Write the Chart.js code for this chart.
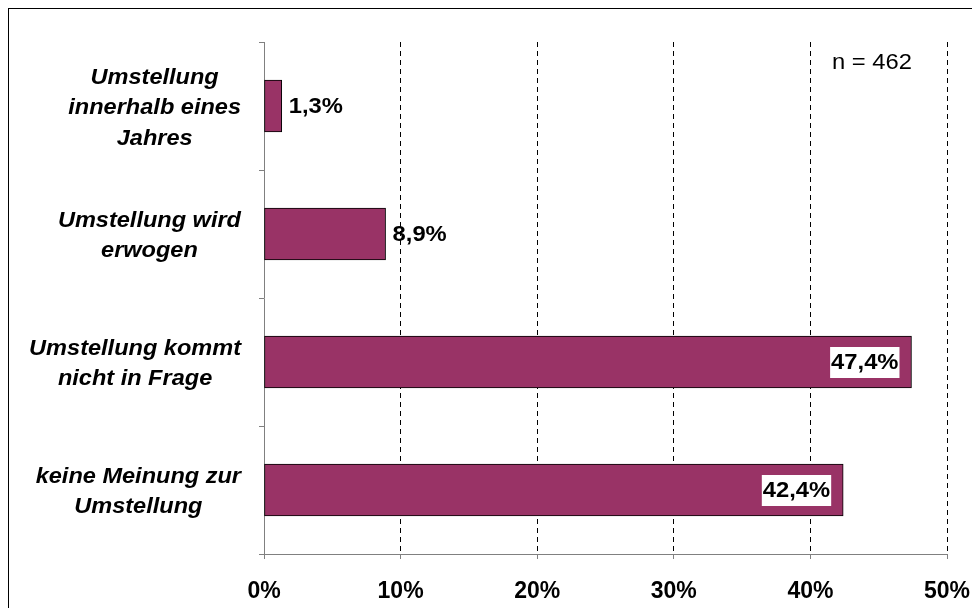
<!DOCTYPE html>
<html>
<head>
<meta charset="utf-8">
<script src="https://cdn.jsdelivr.net/npm/chart.js@4/dist/chart.umd.min.js"></script>
<style>
  html, body { margin: 0; padding: 0; background: #fff; }
  #wrap { width: 972px; height: 608px; }
</style>
</head>
<body>
<div id="wrap"><canvas id="barChart" width="972" height="608"></canvas></div>
<script>
// Daten
const categories = [
    ['Umstellung', 'innerhalb eines', 'Jahres'],
    ['Umstellung wird', 'erwogen'],
    ['Umstellung kommt', 'nicht in Frage'],
    ['keine Meinung zur', 'Umstellung'],
];
const shares = [1.3, 8.9, 47.4, 42.4];
const xTicks = [0, 10, 20, 30, 40, 50];
const sampleNote = 'n = 462';

const FONT = 'Arial, "Liberation Sans", sans-serif';
const BAR_COLOR = '#993366';
const AXIS_GRAY = '#808080';

function fmt(v) {
    return v.toFixed(1).replace('.', ',') + '%';
}

// Text leicht in die Breite gezogen (wie im Original)
function stretchedText(ctx, txt, x, y, sx, align) {
    ctx.save();
    ctx.translate(x, y);
    ctx.scale(sx, 1);
    ctx.textAlign = align;
    ctx.fillText(txt, 0, 0);
    ctx.restore();
}

// Rahmen + Kategorien + Werte + n
const extrasPlugin = {
    id: 'extras',
    beforeDraw(chart) {
        const ctx = chart.ctx;
        ctx.save();
        ctx.strokeStyle = '#000';
        ctx.lineWidth = 1;
        ctx.strokeRect(8.5, 8.5, 2000, 2000);
        ctx.restore();
    },
    afterDatasetsDraw(chart) {
        const ctx = chart.ctx;
        const yScale = chart.scales.y;
        const meta = chart.getDatasetMeta(0);

        ctx.save();
        ctx.textBaseline = 'middle';
        ctx.fillStyle = '#000';

        // Kategorie-Beschriftung: Block rechtsbündig, Zeilen zentriert
        const catStretch = 1.07;
        ctx.font = 'italic bold 22px ' + FONT;
        const lineH = 30.5;
        const rightEdge = 241;
        categories.forEach((lines, i) => {
            const yc = yScale.getPixelForValue(i) + 2;
            const blockW = Math.max(...lines.map((l) => ctx.measureText(l).width)) * catStretch;
            const cx = rightEdge - blockW / 2;
            lines.forEach((l, j) => {
                stretchedText(ctx, l, cx, yc + (j - (lines.length - 1) / 2) * lineH, catStretch, 'center');
            });
        });

        // Werte an den Balken
        const valStretch = 1.08;
        ctx.font = 'bold 22px ' + FONT;
        meta.data.forEach((bar, i) => {
            const txt = fmt(shares[i]);
            const w = ctx.measureText(txt).width * valStretch;
            if (shares[i] > 25) {
                const right = bar.x - 13;
                ctx.fillStyle = '#fff';
                ctx.fillRect(right - w - 1, bar.y - 15, w + 2, 31);
                ctx.fillStyle = '#000';
                stretchedText(ctx, txt, right, bar.y + 1, valStretch, 'right');
            } else {
                ctx.fillStyle = '#000';
                stretchedText(ctx, txt, bar.x + 7, bar.y + 1, valStretch, 'left');
            }
        });

        // Stichprobengröße
        ctx.font = '22px ' + FONT;
        ctx.fillStyle = '#000';
        stretchedText(ctx, sampleNote, 832, 63, 1.08, 'left');
        ctx.restore();
    },
};

new Chart(document.getElementById('barChart'), {
    type: 'bar',
    data: {
        labels: categories,
        datasets: [
            {
                data: shares,
                backgroundColor: BAR_COLOR,
                borderColor: '#000',
                borderWidth: 1,
                borderSkipped: false,
                barThickness: 52,
            },
        ],
    },
    options: {
        indexAxis: 'y',
        responsive: false,
        animation: false,
        devicePixelRatio: 1,
        layout: { padding: { left: 0, top: 42, right: 25, bottom: 0 } },
        plugins: {
            legend: { display: false },
            tooltip: { enabled: false },
        },
        scales: {
            x: {
                type: 'linear',
                position: 'bottom',
                min: 0,
                max: 50,
                afterBuildTicks: (scale) => {
                    scale.ticks = xTicks.map((v) => ({ value: v }));
                },
                afterFit: (scale) => {
                    scale.height = 54;
                    scale.paddingLeft = 0;
                    scale.paddingRight = 0;
                },
                ticks: {
                    color: '#000',
                    font: { family: FONT, size: 23, weight: 'bold' },
                    padding: 19,
                    maxRotation: 0,
                    callback: (v) => v + '%',
                },
                grid: {
                    color: (c) => (c.index === 0 ? 'rgba(0,0,0,0)' : '#000'),
                    tickColor: AXIS_GRAY,
                    tickLength: 5,
                    lineWidth: 1,
                },
                border: { color: AXIS_GRAY, width: 1, dash: [5, 4] },
            },
            y: {
                type: 'category',
                afterFit: (scale) => {
                    scale.width = 264;
                },
                ticks: { display: false },
                grid: {
                    offset: true,
                    drawOnChartArea: false,
                    tickColor: AXIS_GRAY,
                    tickLength: 5,
                },
                border: { color: AXIS_GRAY, width: 1 },
            },
        },
    },
    plugins: [extrasPlugin],
});
</script>
</body>
</html>
